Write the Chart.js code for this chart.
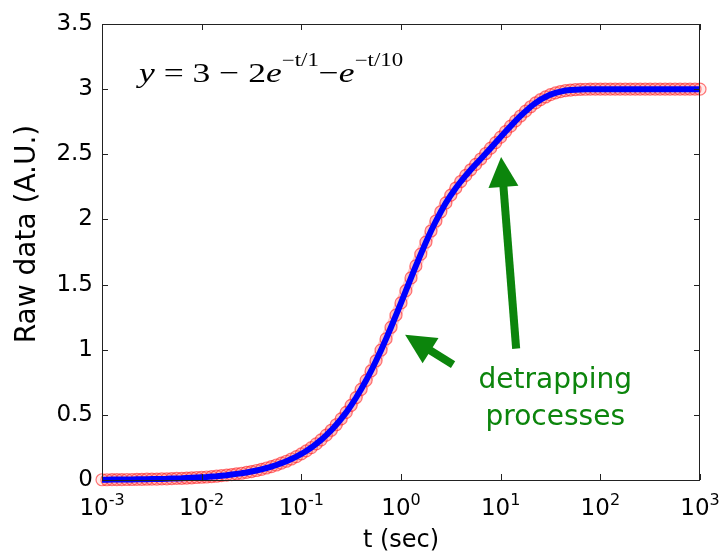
<!DOCTYPE html>
<html>
<head>
<meta charset="utf-8">
<script src="https://cdn.jsdelivr.net/npm/chart.js@4"></script>
<style>
  html, body { margin: 0; padding: 0; background: #fff; }
  #wrap { width: 721px; height: 553px; }
</style>
</head>
<body>
<div id="wrap"><canvas id="chart" width="721" height="553"></canvas></div>
<script>
// DATA (20 samples per decade)
const tValues = [
  0.001, 0.00112, 0.00126, 0.00141, 0.00158, 0.00178, 0.002, 0.00224, 0.00251, 0.00282,
  0.00316, 0.00355, 0.00398, 0.00447, 0.00501, 0.00562, 0.00631, 0.00708, 0.00794, 0.00891,
  0.01, 0.0112, 0.0126, 0.0141, 0.0158, 0.0178, 0.02, 0.0224, 0.0251, 0.0282,
  0.0316, 0.0355, 0.0398, 0.0447, 0.0501, 0.0562, 0.0631, 0.0708, 0.0794, 0.0891,
  0.1, 0.112, 0.126, 0.141, 0.158, 0.178, 0.2, 0.224, 0.251, 0.282,
  0.316, 0.355, 0.398, 0.447, 0.501, 0.562, 0.631, 0.708, 0.794, 0.891,
  1, 1.12, 1.26, 1.41, 1.58, 1.78, 2, 2.24, 2.51, 2.82,
  3.16, 3.55, 3.98, 4.47, 5.01, 5.62, 6.31, 7.08, 7.94, 8.91,
  10, 11.2, 12.6, 14.1, 15.8, 17.8, 20, 22.4, 25.1, 28.2,
  31.6, 35.5, 39.8, 44.7, 50.1, 56.2, 63.1, 70.8, 79.4, 89.1,
  100, 112, 126, 141, 158, 178, 200, 224, 251, 282,
  316, 355, 398, 447, 501, 562, 631, 708, 794, 891,
  1000
];
const rawValues = [
  0.002, 0.002, 0.003, 0.003, 0.003, 0.004, 0.004, 0.005, 0.005, 0.006,
  0.007, 0.007, 0.008, 0.009, 0.011, 0.012, 0.013, 0.015, 0.017, 0.019,
  0.021, 0.023, 0.026, 0.029, 0.033, 0.037, 0.042, 0.047, 0.052, 0.058,
  0.065, 0.073, 0.082, 0.092, 0.103, 0.115, 0.129, 0.144, 0.161, 0.179,
  0.200, 0.223, 0.249, 0.277, 0.308, 0.344, 0.382, 0.424, 0.469, 0.519,
  0.573, 0.633, 0.696, 0.765, 0.837, 0.915, 0.997, 1.083, 1.172, 1.265,
  1.359, 1.453, 1.551, 1.643, 1.734, 1.826, 1.911, 1.988, 2.059, 2.127,
  2.186, 2.241, 2.291, 2.338, 2.381, 2.423, 2.464, 2.506, 2.547, 2.590,
  2.632, 2.674, 2.716, 2.756, 2.794, 2.831, 2.865, 2.894, 2.919, 2.940,
  2.958, 2.971, 2.981, 2.989, 2.993, 2.996, 2.998, 2.999, 3.000, 3.000,
  3, 3, 3, 3, 3, 3, 3, 3, 3, 3,
  3, 3, 3, 3, 3, 3, 3, 3, 3, 3,
  3
];
const xTicks = [0.001, 0.01, 0.1, 1, 10, 100, 1000];
const xTickExp = ['-3', '-2', '-1', '0', '1', '2', '3'];
const yMin = 0, yMax = 3.5, yStep = 0.5;

const points = tValues.map((t, i) => ({ x: t, y: rawValues[i] }));

const GREEN = '#0c850c';
const SANS = '"DejaVu Sans", sans-serif';
const SERIF = '"Liberation Serif", "DejaVu Serif", serif';

// green arrow, tail -> tip
function arrow(ctx, x0, y0, x1, y1, w, hl, hw) {
  const ang = Math.atan2(y1 - y0, x1 - x0);
  const len = Math.hypot(x1 - x0, y1 - y0);
  ctx.save();
  ctx.translate(x0, y0);
  ctx.rotate(ang);
  ctx.fillRect(0, -w / 2, len - hl + 1, w);
  ctx.beginPath();
  ctx.moveTo(len, 0);
  ctx.lineTo(len - hl, -hw / 2);
  ctx.lineTo(len - hl, hw / 2);
  ctx.closePath();
  ctx.fill();
  ctx.restore();
}

const decorations = {
  id: 'decorations',
  afterDatasetsDraw(chart) {
    const { ctx, chartArea: a, scales: { x, y } } = chart;
    ctx.save();

    // box + inward ticks on all sides
    ctx.strokeStyle = '#222';
    ctx.lineWidth = 1;
    ctx.strokeRect(a.left + 0.5, a.top + 0.5, a.right - a.left - 1, a.bottom - a.top);
    ctx.beginPath();
    xTicks.forEach(v => {
      const px = Math.round(x.getPixelForValue(v)) + 0.5;
      ctx.moveTo(px, a.bottom); ctx.lineTo(px, a.bottom - 6);
      ctx.moveTo(px, a.top); ctx.lineTo(px, a.top + 6);
    });
    y.ticks.forEach(t => {
      const py = Math.round(y.getPixelForValue(t.value)) + 0.5;
      ctx.moveTo(a.left, py); ctx.lineTo(a.left + 6, py);
      ctx.moveTo(a.right, py); ctx.lineTo(a.right - 6, py);
    });
    ctx.stroke();

    // x tick labels 10^n
    ctx.fillStyle = '#000';
    ctx.textAlign = 'left';
    ctx.textBaseline = 'alphabetic';
    xTicks.forEach((v, i) => {
      ctx.font = '23px ' + SANS;
      const w1 = ctx.measureText('10').width;
      ctx.font = '16px ' + SANS;
      const w2 = ctx.measureText(xTickExp[i]).width;
      const sx = x.getPixelForValue(v) - (w1 + w2) / 2;
      ctx.font = '23px ' + SANS;
      ctx.fillText('10', sx, a.bottom + 35);
      ctx.font = '16px ' + SANS;
      ctx.fillText(xTickExp[i], sx + w1, a.bottom + 25);
    });

    // axis titles
    ctx.font = '24px ' + SANS;
    ctx.textAlign = 'center';
    ctx.fillText('t (sec)', (a.left + a.right) / 2, 547);
    ctx.save();
    ctx.translate(28, 234);
    ctx.rotate(-Math.PI / 2);
    ctx.textBaseline = 'middle';
    ctx.font = '28px ' + SANS;
    ctx.fillText('Raw data (A.U.)', 0, 0);
    ctx.restore();

    // equation
    ctx.save();
    ctx.translate(139, 82);
    ctx.scale(1.27, 1);
    ctx.textAlign = 'left';
    let cx = 0;
    const put = (txt, font, dy) => {
      ctx.font = font;
      ctx.fillText(txt, cx, dy);
      cx += ctx.measureText(txt).width;
    };
    const it = 'italic 28px ' + SERIF, rm = '28px ' + SERIF, sup = '18px ' + SERIF;
    put('y', it, 0);
    put(' = 3 \u2212 2', rm, 0);
    put('e', it, 0);
    put('\u2212t/1', sup, -16);
    put('\u2212', rm, 0);
    put('e', it, 0);
    put('\u2212t/10', sup, -16);
    ctx.restore();

    // annotation arrows + text
    ctx.fillStyle = GREEN;
    const P = (t, v) => [x.getPixelForValue(t), y.getPixelForValue(v)];
    const [s0x, s0y] = P(3.33, 0.885), [s1x, s1y] = P(1.1, 1.115);
    arrow(ctx, s0x, s0y, s1x, s1y, 8, 30, 30);
    const [l0x, l0y] = P(14.3, 1.008), [l1x, l1y] = P(10.1, 2.48);
    arrow(ctx, l0x, l0y, l1x, l1y, 8, 30, 30);

    ctx.font = '28px ' + SANS;
    ctx.textAlign = 'center';
    const [tx, ty1] = P(35.3, 0.708);
    ctx.fillText('detrapping', tx, ty1);
    ctx.fillText('processes', tx, y.getPixelForValue(0.422));

    ctx.restore();
  }
};

new Chart(document.getElementById('chart'), {
  type: 'scatter',
  data: {
    datasets: [
      {
        label: 'fit',
        data: points,
        showLine: true,
        borderColor: '#0000ff',
        borderWidth: 6,
        pointRadius: 0,
        tension: 0,
        clip: false,
        order: 1
      },
      {
        label: 'raw',
        data: points,
        showLine: true,
        borderColor: 'rgba(255, 165, 165, 0.6)',
        borderWidth: 11,
        pointRadius: 6,
        pointBorderWidth: 1.2,
        pointBorderColor: 'rgba(255, 30, 30, 0.6)',
        pointBackgroundColor: 'rgba(255, 160, 160, 0.22)',
        clip: false,
        order: 2
      }
    ]
  },
  options: {
    responsive: false,
    animation: false,
    layout: { padding: { left: 0, right: 21, top: 24, bottom: 0 } },
    plugins: { legend: { display: false }, tooltip: { enabled: false } },
    scales: {
      x: {
        type: 'logarithmic',
        min: 0.001,
        max: 1000,
        afterBuildTicks: s => { s.ticks = xTicks.map(v => ({ value: v })); },
        afterFit: s => { s.height = 73; },
        grid: { display: false, drawTicks: false },
        border: { display: false },
        ticks: { display: false }
      },
      y: {
        min: yMin,
        max: yMax,
        afterFit: s => { s.width = 102; },
        grid: { display: false, drawTicks: false },
        border: { display: false },
        ticks: {
          stepSize: yStep,
          padding: 9,
          color: '#000',
          font: { family: SANS, size: 23 },
          callback: v => String(v)
        }
      }
    }
  },
  plugins: [decorations]
});
</script>
</body>
</html>
